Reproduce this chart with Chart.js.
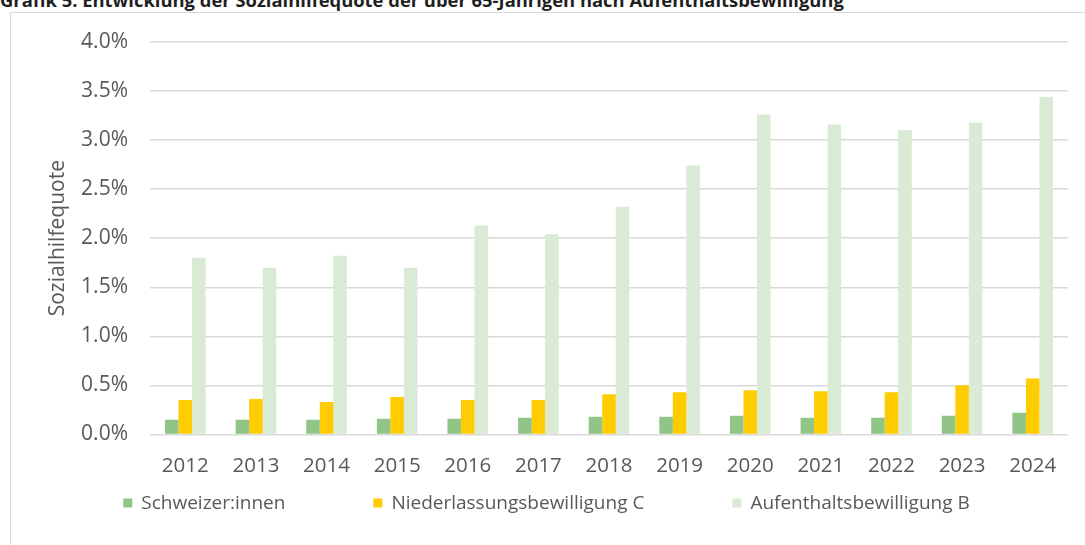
<!DOCTYPE html>
<html>
<head>
<meta charset="utf-8">
<script src="https://cdn.jsdelivr.net/npm/chart.js@4/dist/chart.umd.min.js"></script>
<style>
  html, body { margin: 0; padding: 0; background: #fff; overflow: hidden; }
  body { width: 1085px; height: 545px; position: relative; }
  #title {
    position: absolute; left: 0; top: -13px;
    font: bold 18.4px "Open Sans", sans-serif; color: #1f1f1f; white-space: nowrap;
  }
  #frame {
    position: absolute; left: 10px; top: 12px; width: 1090px; height: 560px;
    border: 1px solid #d9d9d9; box-sizing: border-box;
  }
  #wrap { position: absolute; left: 0; top: 0; width: 1085px; height: 545px; }
</style>
</head>
<body>
<div id="title">Grafik 5: Entwicklung der Sozialhilfequote der über 65-Jährigen nach Aufenthaltsbewilligung</div>
<div id="frame"></div>
<div id="wrap"><canvas id="chart"></canvas></div>
<script>
// Jahre (x-Achse)
const years = ['2012', '2013', '2014', '2015', '2016', '2017', '2018',
               '2019', '2020', '2021', '2022', '2023', '2024'];

// Sozialhilfequote in Prozent
const schweizer = [0.15, 0.15, 0.15, 0.16, 0.16, 0.17, 0.18, 0.18, 0.19, 0.17, 0.17, 0.19, 0.22];
const niederlassungC = [0.35, 0.36, 0.33, 0.38, 0.35, 0.35, 0.41, 0.43, 0.45, 0.44, 0.43, 0.50, 0.57];
const aufenthaltB = [1.80, 1.70, 1.82, 1.70, 2.13, 2.04, 2.32, 2.74, 3.26, 3.16, 3.10, 3.18, 3.44];

const seriesNames = ['Schweizer:innen', 'Niederlassungsbewilligung C', 'Aufenthaltsbewilligung B'];
const seriesColors = ['#90c587', '#ffcc00', '#d9ead5'];

const textColor = '#595959';
const gridColor = '#d9d9d9';

// Legende wie in Excel: eine Zeile, grosse Abstände zwischen den Einträgen
const excelLegend = {
    id: 'excelLegend',
    afterDraw(chart) {
        const c = chart.ctx;
        const box = 9, textGap = 18, itemGap = 88, y = 503;
        c.save();
        c.font = '19px "Open Sans"';
        c.textBaseline = 'middle';
        const items = chart.data.datasets.map(ds => ({
            label: ds.label, color: ds.backgroundColor, w: c.measureText(ds.label).width
        }));
        const total = items.reduce((s, it) => s + textGap + it.w, 0) + itemGap * (items.length - 1);
        let x = chart.width / 2 + 4 - total / 2;
        items.forEach(it => {
            c.fillStyle = it.color;
            c.fillRect(x, y - box / 2, box, box);
            c.fillStyle = textColor;
            c.fillText(it.label, x + textGap, y + 1);
            x += textGap + it.w + itemGap;
        });
        c.restore();
    }
};

const ctx = document.getElementById('chart');

new Chart(ctx, {
    type: 'bar',
    data: {
        labels: years,
        datasets: [schweizer, niederlassungC, aufenthaltB].map((values, i) => ({
            label: seriesNames[i],
            data: values,
            backgroundColor: seriesColors[i],
            borderWidth: 0,
            barPercentage: 1,
            categoryPercentage: 0.575
        }))
    },
    plugins: [excelLegend],
    options: {
        responsive: true,
        maintainAspectRatio: false,
        animation: false,
        layout: {
            padding: { left: 45, right: 17, top: 42, bottom: 56 }
        },
        plugins: {
            tooltip: { enabled: false },
            legend: { display: false }
        },
        scales: {
            x: {
                grid: { display: false },
                border: { display: false },
                ticks: {
                    color: textColor,
                    font: { family: 'Open Sans', size: 20.5 },
                    padding: 11
                }
            },
            y: {
                min: 0,
                max: 4,
                afterFit: (scale) => { scale.width = 105; },
                border: { display: false },
                grid: { color: gridColor, lineWidth: 1.5, drawTicks: false },
                ticks: {
                    stepSize: 0.5,
                    color: textColor,
                    font: { family: 'Open Sans', size: 21 },
                    padding: 22,
                    callback: (v) => v.toFixed(1) + '%'
                },
                title: {
                    display: true,
                    text: 'Sozialhilfequote',
                    color: textColor,
                    font: { family: 'Open Sans', size: 21 },
                    padding: 0
                }
            }
        }
    }
});
</script>
</body>
</html>
